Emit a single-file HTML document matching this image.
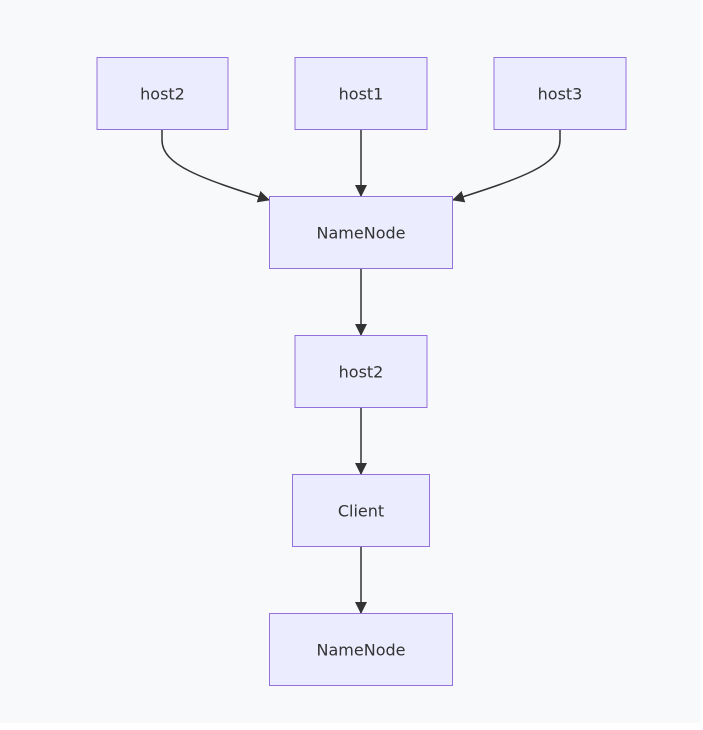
<!DOCTYPE html>
<html><head><style>
body{margin:0;background:#fff;}
svg{display:block}
text{font-family:"DejaVu Sans","Liberation Sans",sans-serif;font-size:16px;fill:#333;text-anchor:middle;dominant-baseline:central}
rect{fill:#ececff;stroke:#9370db;stroke-width:1}
path{stroke:#333;stroke-width:1.5;fill:none}
</style></head><body>
<svg width="703" height="730" viewBox="0 0 703 730">
<defs><marker id="a" markerWidth="12" markerHeight="12" refX="11" refY="6" orient="auto" markerUnits="userSpaceOnUse"><path d="M0,0 L12,6 L0,12 z" style="fill:#333;stroke:none"/></marker></defs>
<rect x="0" y="0" width="700" height="723" style="fill:#f8f9fa;stroke:none"/>
<path d="M162,129 L162,140 C162,165 200,178 269,200" marker-end="url(#a)"/>
<path d="M361,129 L361,196" marker-end="url(#a)"/>
<path d="M560,129 L560,140 C560,165 522,178 453,200" marker-end="url(#a)"/>
<path d="M361,268 L361,335" marker-end="url(#a)"/>
<path d="M361,407 L361,474" marker-end="url(#a)"/>
<path d="M361,546 L361,613" marker-end="url(#a)"/>
<rect x="97" y="57.5" width="131" height="72"/><text x="162.5" y="94">host2</text>
<rect x="295" y="57.5" width="132" height="72"/><text x="361" y="94">host1</text>
<rect x="494" y="57.5" width="132" height="72"/><text x="560" y="94">host3</text>
<rect x="269.5" y="196.5" width="183" height="72"/><text x="361" y="233">NameNode</text>
<rect x="295" y="335.5" width="132" height="72"/><text x="361" y="372">host2</text>
<rect x="292.5" y="474.5" width="137" height="72"/><text x="361" y="511">Client</text>
<rect x="269.5" y="613.5" width="183" height="72"/><text x="361" y="650">NameNode</text>
</svg>
</body></html>
